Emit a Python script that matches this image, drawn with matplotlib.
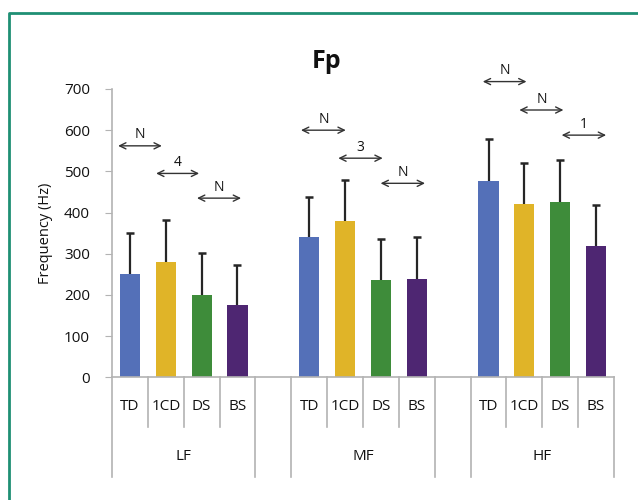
import matplotlib
matplotlib.use('Agg')
import matplotlib.pyplot as plt
from matplotlib.lines import Line2D
import numpy as np

plt.rcParams['font.family'] = ['Open Sans', 'DejaVu Sans']

# Data
groups = ['LF', 'MF', 'HF']
subjects = ['TD', '1CD', 'DS', 'BS']
means = {
    'LF': [250, 280, 200, 175],
    'MF': [340, 380, 236, 238],
    'HF': [477, 420, 426, 319],
}
sds = {
    'LF': [100, 102, 101, 97],
    'MF': [98, 99, 99, 102],
    'HF': [101, 101, 101, 99],
}
# comparison arrows: (x start, x end, y, label) in category units
arrows = [
    (-0.33, 0.89, 562, 'N'), (0.73, 1.93, 495, '4'), (1.87, 3.10, 435, 'N'),
    (4.77, 6.02, 600, 'N'), (5.81, 7.05, 532, '3'), (6.99, 8.23, 471, 'N'),
    (9.84, 11.06, 718, 'N'), (10.86, 12.09, 649, 'N'), (12.04, 13.28, 588, '1'),
]

BLUE = '#5470B8'
YELLOW = '#E0B428'
GREEN = '#3E8C3A'
PURPLE = '#4E2672'
colors = [BLUE, YELLOW, GREEN, PURPLE]
AXIS = '#b3b3b3'
TEAL = '#1f8f74'
TXT = '#111111'

fig = plt.figure(figsize=(6.38, 5.0), dpi=100)
ax = fig.add_axes([112/638, 1 - 377.3/500, (614-112)/638, (377.3-89)/500])

# groups placed with one empty slot between them
for g, grp in enumerate(groups):
    start = g * 5
    xs = np.arange(start, start + 4)
    m = np.array(means[grp])
    top = m + np.array(sds[grp])
    ax.bar(xs, m, width=0.56, color=colors, zorder=2)
    # upper error bars only
    ax.vlines(xs, m, top, color='#262626', lw=1.6, zorder=3)
    ax.plot(xs, top, linestyle='none', marker='_', markersize=6,
            markeredgewidth=1.8, color='#262626', zorder=3)

for x0, x1, y, lab in arrows:
    ax.annotate('', xy=(x1, y), xytext=(x0, y), annotation_clip=False,
                arrowprops=dict(arrowstyle='<->,head_length=0.45,head_width=0.22',
                                color='#333333', lw=1.0, shrinkA=0, shrinkB=0))
    ax.annotate(lab, xy=((x0 + x1) / 2, y), xytext=(0, 2.5), textcoords='offset points',
                ha='center', va='bottom', fontsize=10, color=TXT,
                annotation_clip=False)

ax.set_xlim(-0.5, 13.5)
ax.set_ylim(0, 700)
ax.set_yticks(range(0, 701, 100))
ax.tick_params(axis='y', labelsize=11, length=5, color=AXIS, pad=11, labelcolor=TXT)
ax.set_xticks([])
for side in ['top', 'right']:
    ax.spines[side].set_visible(False)
ax.spines['left'].set_color(AXIS)
ax.spines['bottom'].set_color(AXIS)
ax.spines['left'].set_linewidth(1.2)
ax.spines['bottom'].set_linewidth(1.2)

ax.set_ylabel('Frequency (Hz)', fontsize=10.5, color=TXT, labelpad=8)

# multi-level category axis drawn below the plot
trans = ax.get_xaxis_transform()
px = 1 / (377.3 - 89)  # one pixel in axes fraction
short_end = -(427.3 - 377.3) * px
long_end = -(477.3 - 377.3) * px
for g, grp in enumerate(groups):
    start = g * 5
    for k in range(1, 4):
        ax.plot([start + k - 0.5] * 2, [0, short_end], transform=trans,
                color=AXIS, lw=1.2, clip_on=False)
    for xb in (start - 0.5, start + 3.5):
        ax.plot([xb, xb], [0, long_end], transform=trans,
                color=AXIS, lw=1.2, clip_on=False)
    for k, sub in enumerate(subjects):
        ax.text(start + k, -(407 - 377.3) * px, sub, transform=trans,
                ha='center', va='center', fontsize=11, color=TXT)
    ax.text(start + 1.5, -(457 - 377.3) * px, grp, transform=trans,
            ha='center', va='center', fontsize=11, color=TXT)

fig.text(327/638, 1 - 61/500, 'Fp', ha='center', va='center',
         fontsize=18, fontweight='bold', color=TXT)

# green frame (top and left edges visible)
fig.add_artist(Line2D([9.3/638, 9.3/638, 1.0], [0.0, 1 - 12.5/500, 1 - 12.5/500],
                      transform=fig.transFigure, color=TEAL, lw=2.0))

fig.savefig('out.png', dpi=100)
